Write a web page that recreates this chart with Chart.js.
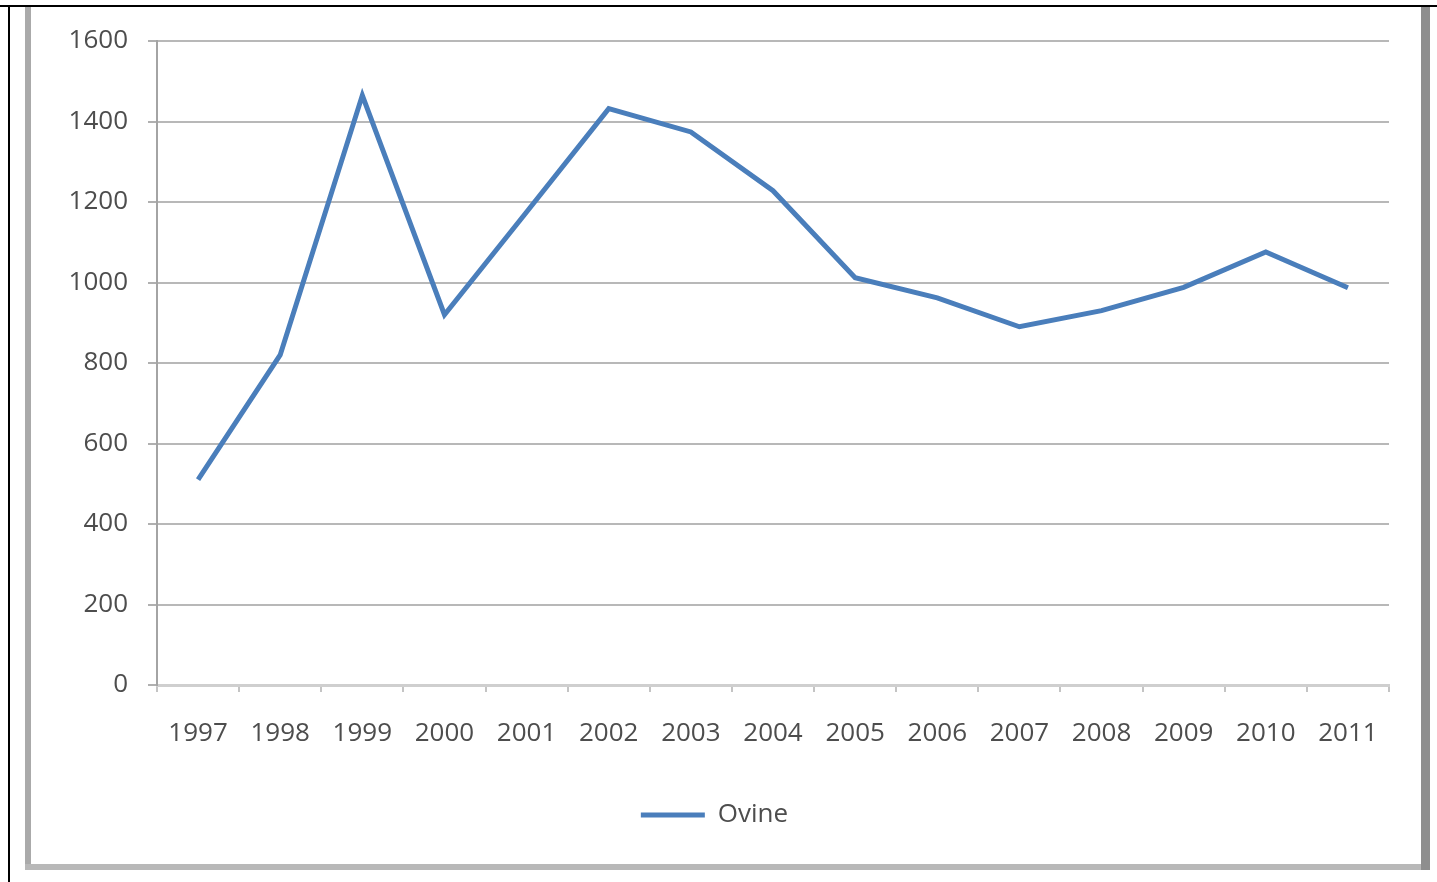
<!DOCTYPE html>
<html>
<head>
<meta charset="utf-8">
<script src="https://cdn.jsdelivr.net/npm/chart.js@4.4.1/dist/chart.umd.min.js"></script>
<style>
  html, body { margin: 0; padding: 0; background: #fff; }
  #wrap { position: relative; width: 1437px; height: 882px; overflow: hidden; }
  #chart { position: absolute; left: 0; top: 0; }
  .edge { position: absolute; }
</style>
</head>
<body>
<div id="wrap">
  <canvas id="chart" width="1437" height="882"></canvas>
  <!-- frame round the picture -->
  <div class="edge" style="left:0;top:5px;width:1437px;height:2px;background:#000"></div>
  <div class="edge" style="left:8px;top:5px;width:2px;height:877px;background:#000"></div>
  <div class="edge" style="left:25px;top:7px;width:6px;height:863px;background:#aaa"></div>
  <div class="edge" style="left:25px;top:864px;width:1405px;height:6px;background:#b8b8b8"></div>
  <div class="edge" style="left:1421px;top:7px;width:9px;height:863px;background:#8e8e8e"></div>
</div>
<script>
/* Ovine line chart, 1997-2011 */
var years = ['1997','1998','1999','2000','2001','2002','2003','2004','2005','2006','2007','2008','2009','2010','2011'];
var ovine = [510, 820, 1465, 920, 1175, 1432, 1374, 1228, 1012, 962, 890, 930, 988, 1076, 987];
var yTicks = [0, 200, 400, 600, 800, 1000, 1200, 1400, 1600];

var textColor = '#4d4d4d';
var font = { family: "'Open Sans', 'DejaVu Sans', sans-serif", size: 26 };

new Chart(document.getElementById('chart').getContext('2d'), {
    type: 'line',
    data: {
        labels: years,
        datasets: [{
            label: 'Ovine',
            data: ovine,
            borderColor: '#4A7EBB',
            backgroundColor: '#4A7EBB',
            borderWidth: 5,
            pointRadius: 0,
            tension: 0
        }]
    },
    options: {
        responsive: false,
        animation: false,
        layout: { padding: { left: 40, right: 48, top: 41, bottom: 44 } },
        scales: {
            x: {
                offset: true,
                grid: { offset: true, drawOnChartArea: false, drawTicks: true, tickLength: 7, tickColor: '#c4c4c4', lineWidth: 2 },
                border: { color: '#cfcfcf', width: 3 },
                ticks: { color: textColor, font: font, padding: 26, maxRotation: 0, autoSkip: false },
                afterFit: function(s) { s.height = 80; }
            },
            y: {
                min: 0, max: 1600,
                afterBuildTicks: function(s) { s.ticks = yTicks.map(function(v) { return { value: v }; }); },
                grid: { color: '#b8b8b8', lineWidth: 2, tickLength: 9, tickColor: '#b0b0b0' },
                border: { color: '#a4a4a4', width: 2 },
                ticks: { color: textColor, font: font, padding: 20, callback: function(v) { return String(v); } },
                afterFit: function(s) { s.width = 117; }
            }
        },
        plugins: {
            legend: {
                position: 'bottom',
                labels: {
                    color: textColor,
                    font: font,
                    usePointStyle: true,
                    pointStyle: 'line',
                    pointStyleWidth: 64,
                    padding: 37
                }
            },
            tooltip: { enabled: false }
        }
    }
});
</script>
</body>
</html>
